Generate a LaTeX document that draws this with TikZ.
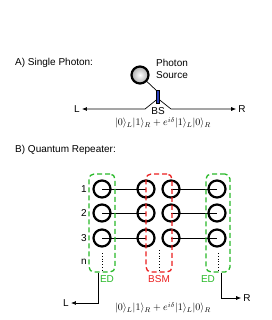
\documentclass[tikz,border=0pt]{standalone}
\usepackage{fontspec}
\setmainfont{Liberation Sans}
\usetikzlibrary{arrows.meta,positioning,calc}
\definecolor{edgreen}{RGB}{40,185,40}
\definecolor{bsmred}{RGB}{235,30,30}
\definecolor{bsblue}{RGB}{45,65,190}
\tikzset{
  qb/.style={circle, draw, line width=2.2pt, minimum size=17pt, inner sep=0pt},
  srcball/.style={circle, draw, line width=2.2pt, minimum size=17pt, inner sep=0pt, inner color=white, outer color=gray!65},
  edbox/.style={draw=edgreen, dash pattern=on 5pt off 3pt, line width=1.3pt, rounded corners=5pt, minimum width=26pt, minimum height=98pt},
  bsmbox/.style={edbox, draw=bsmred},
  lbl/.style={font=\normalsize, inner sep=2pt},
  flow/.style={-{Latex[length=5pt,width=4pt]}, line width=0.7pt}
}
\begin{document}
\begin{tikzpicture}[x=1pt,y=-1pt]
  \useasboundingbox (0,0) rectangle (272,320);
  % A) single photon
  \node[lbl,anchor=west] (ta) at (13,63) {A) Single Photon:};
  \node[srcball] (ps) at (140,75) {};
  \node[lbl,anchor=west,align=left] (pst) at (154,69) {Photon\\Source};
  \draw[line width=0.7pt] (ps) -- (158,92);
  \node[draw, fill=bsblue, line width=0.4pt, minimum width=3pt, minimum height=13pt, inner sep=0pt] (bs) at (158,97) {};
  \coordinate (hl) at (145,109);
  \coordinate (hr) at (171,109);
  \node[lbl] (la) at (77,109) {L};
  \node[lbl] (ra) at (242,109) {R};
  \draw[flow] ([yshift=-3pt]bs.west) -- (hl) -- (la);
  \draw[flow] ([yshift=-3pt]bs.east) -- (hr) -- (ra);
  \node[lbl] (bsl) at (158,111) {BS};
  \node[lbl] (fa) at (163,123) {$|0\rangle_L|1\rangle_R+e^{i\delta}|1\rangle_L|0\rangle_R$};
  % B) quantum repeater
  \node[lbl,anchor=west] (tb) at (13,150) {B) Quantum Repeater:};
  \foreach \r/\y in {1/189,2/213,3/238} {
    \node[qb] (a\r) at (102,\y) {};
    \node[qb] (b\r) at (146,\y) {};
    \node[qb] (c\r) at (171,\y) {};
    \node[qb] (d\r) at (217,\y) {};
    \node[lbl] (n\r) at (84,\y) {\r};
    \draw[line width=0.7pt] (a\r.center) -- (b\r.center);
    \draw[line width=0.7pt] (c\r.center) -- (d\r.center);
  }
  \node[lbl] (nn) at (84,262) {n};
  \foreach \x/\t in {102/253,159/250,218/253}
    \draw[dotted, line width=0.8pt] (\x,\t) -- (\x,270);
  % boxes
  \node[edbox] (edl) at (102,223) {};
  \node[bsmbox] (bsm) at (159,223) {};
  \node[edbox, minimum width=24pt] (edr) at (218,223) {};
  \node[lbl, text=edgreen] (edlt) at (107,279) {ED};
  \node[lbl, text=bsmred] (bsmt) at (159,279) {BSM};
  \node[lbl, text=edgreen] (edrt) at (208,279) {ED};
  % outputs
  \node[lbl] (lb) at (66,303) {L};
  \node[lbl] (rb) at (247,298) {R};
  \draw[flow] ([xshift=-4pt]edl.south) |- (lb);
  \draw[flow] ([xshift=3pt]edr.south) |- (rb);
  \node[lbl] (fb) at (163,308) {$|0\rangle_L|1\rangle_R+e^{i\delta}|1\rangle_L|0\rangle_R$};
\end{tikzpicture}
\end{document}
